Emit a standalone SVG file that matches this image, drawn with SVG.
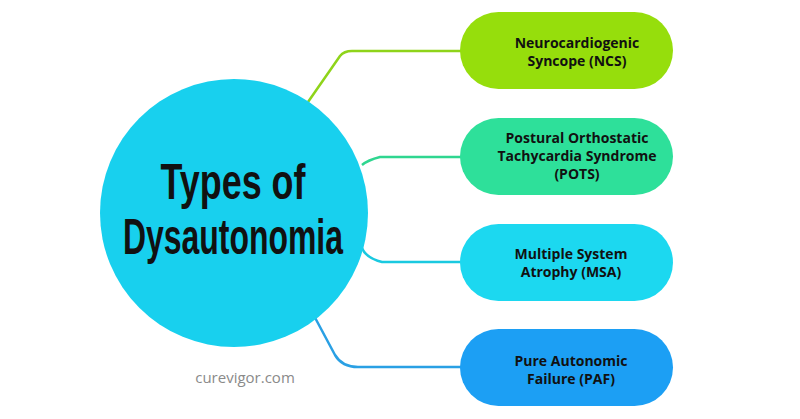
<svg xmlns="http://www.w3.org/2000/svg" width="800" height="419" viewBox="0 0 800 419">
<style>
.c{fill:none;stroke-width:2.5;stroke-linejoin:round}
.t{font-family:"Open Sans","Liberation Sans",sans-serif;font-weight:bold;font-size:14px;fill:#111;text-anchor:middle}
.h{font-family:"Liberation Sans",sans-serif;font-weight:bold;font-size:50px;fill:#111;text-anchor:middle}
</style>
<rect width="800" height="419" fill="#fff"/>
<g id="connectors">
<path class="c" stroke="#8fd41a" d="M308,102 L340,56 Q344,51 352,51 L462,51"/>
<path class="c" stroke="#2fd690" d="M362,165 Q368,160 380,157 L462,157"/>
<path class="c" stroke="#1ac9e0" d="M362,248 Q366,258 382,262 L462,262"/>
<path class="c" stroke="#2aa0e4" d="M312,312 L335,355 Q342,367 358,367 L462,367"/>
</g>
<g id="center"><circle cx="234" cy="213" r="134" fill="#18d0ee"/>
<text class="h" x="233" y="199" textLength="145" lengthAdjust="spacingAndGlyphs">Types of</text>
<text class="h" x="233" y="254" textLength="220" lengthAdjust="spacingAndGlyphs">Dysautonomia</text></g>
<g id="n1"><rect x="460" y="12" width="213" height="77" rx="38.5" fill="#96de0c"/>
<text class="t" x="577" y="48">Neurocardiogenic</text><text class="t" x="577" y="66">Syncope (NCS)</text></g>
<g id="n2"><rect x="460" y="118" width="213" height="77" rx="38.5" fill="#2ee09a"/>
<text class="t" x="577" y="143">Postural Orthostatic</text><text class="t" x="577" y="161">Tachycardia Syndrome</text><text class="t" x="577" y="179">(POTS)</text></g>
<g id="n3"><rect x="460" y="224" width="213" height="77" rx="38.5" fill="#1cd8f0"/>
<text class="t" x="571" y="259">Multiple System</text><text class="t" x="571" y="277">Atrophy (MSA)</text></g>
<g id="n4"><rect x="460" y="329" width="213" height="77" rx="38.5" fill="#1c9ff4"/>
<text class="t" x="571" y="366">Pure Autonomic</text><text class="t" x="571" y="384">Failure (PAF)</text></g>
<text x="245" y="383" font-family="Open Sans,sans-serif" font-size="15" fill="#8a8a8a" text-anchor="middle">curevigor.com</text>
</svg>
